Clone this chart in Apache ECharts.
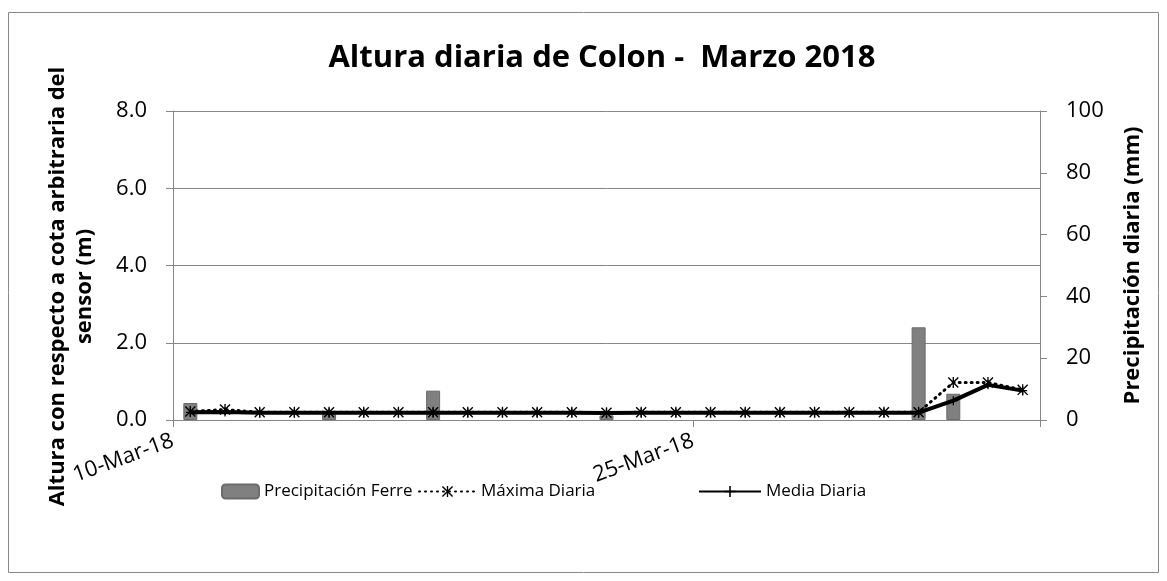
<!DOCTYPE html>
<html>
<head>
<meta charset="utf-8">
<script src="https://cdn.jsdelivr.net/npm/echarts@6/dist/echarts.min.js"></script>
<style>
html, body { margin: 0; padding: 0; background: #fff; }
#chart { width: 1167px; height: 581px; }
</style>
</head>
<body>
<div id="chart"></div>
<script>
// fechas diarias (10-Mar-18 a 3-Apr-18)
var fechas = ['10-Mar-18','11-Mar-18','12-Mar-18','13-Mar-18','14-Mar-18','15-Mar-18','16-Mar-18',
  '17-Mar-18','18-Mar-18','19-Mar-18','20-Mar-18','21-Mar-18','22-Mar-18','23-Mar-18','24-Mar-18',
  '25-Mar-18','26-Mar-18','27-Mar-18','28-Mar-18','29-Mar-18','30-Mar-18','31-Mar-18',
  '1-Apr-18','2-Apr-18','3-Apr-18'];
// precipitacion (mm)
var precipitacion = [5.5,null,null,null,2,null,null,9.5,null,null,null,null,1.5,null,null,
  null,null,null,null,null,null,30,8.5,null,null];
// altura maxima diaria (m)
var maxima = [0.22,0.27,0.2,0.2,0.2,0.2,0.2,0.2,0.2,0.2,0.2,0.2,0.19,0.2,0.2,
  0.2,0.2,0.2,0.2,0.2,0.2,0.2,0.97,0.97,0.78];
// altura media diaria (m)
var media = [0.2,0.21,0.19,0.19,0.19,0.19,0.19,0.19,0.19,0.19,0.19,0.19,0.18,0.19,0.19,
  0.19,0.19,0.19,0.19,0.19,0.19,0.19,0.5,0.91,0.76];

var fuente = 'Open Sans';
var gris = '#868686';
var asterisco = 'path://M4.4,0L5.6,0L5.6,10L4.4,10Z M0.9,0L10,9.1L9.1,10L0,0.9Z M9.1,0L10,0.9L0.9,10L0,9.1Z';
var cruz = 'path://M4.3,0L5.7,0L5.7,10L4.3,10Z M0,4.3L10,4.3L10,5.7L0,5.7Z';

var myChart = echarts.init(document.getElementById('chart'));
myChart.setOption({
  animation: false,
  textStyle: { fontFamily: fuente, color: '#000' },
  graphic: [{
    type: 'rect',
    shape: { x: 8.5, y: 12.5, width: 1150, height: 560 },
    style: { fill: null, stroke: '#898989', lineWidth: 1 }
  }],
  title: {
    text: 'Altura diaria de Colon -  Marzo 2018',
    left: 597,
    textAlign: 'center',
    top: 38,
    textStyle: { fontFamily: fuente, fontSize: 31, fontWeight: 'bold', color: '#000' }
  },
  legend: [
    { data: ['Precipitación Ferre'], left: 221, top: 483, padding: 0, itemWidth: 37, itemHeight: 14,
      textStyle: { fontFamily: fuente, fontSize: 17, color: '#000' } },
    { data: ['Máxima Diaria'], left: 418, top: 483, padding: 0, itemWidth: 57, itemHeight: 14,
      textStyle: { fontFamily: fuente, fontSize: 17, color: '#000' } },
    { data: ['Media Diaria'], left: 698, top: 483, padding: 0, itemWidth: 62, itemHeight: 14,
      textStyle: { fontFamily: fuente, fontSize: 17, color: '#000' } }
  ],
  grid: { left: 173, right: 127, top: 111, bottom: 161 },
  xAxis: [
    {
      type: 'category',
      data: fechas,
      boundaryGap: true,
      axisLine: { lineStyle: { color: gris, width: 1 } },
      axisTick: { show: false },
      axisLabel: { show: false }
    },
    {
      // eje auxiliar para poner las etiquetas en los limites de cada dia
      type: 'value',
      min: 0,
      max: fechas.length,
      interval: 15,
      position: 'bottom',
      axisLine: { show: false },
      axisTick: { show: true, length: 7, lineStyle: { color: gris } },
      splitLine: { show: false },
      axisLabel: {
        rotate: 20,
        fontSize: 22,
        color: '#000',
        margin: 20,
        formatter: function (v) { return v < fechas.length ? fechas[v] : ''; }
      }
    }
  ],
  yAxis: [
    {
      type: 'value',
      min: 0,
      max: 8,
      interval: 2,
      position: 'left',
      name: 'Altura con respecto a cota arbitraria del\nsensor (m)',
      nameLocation: 'middle',
      nameGap: 75,
      nameTextStyle: { fontFamily: fuente, fontSize: 22, fontWeight: 'bold', color: '#000', lineHeight: 27, padding: [0, 42, 0, 0] },
      axisLine: { show: true, lineStyle: { color: gris } },
      axisTick: { show: true, length: 7, lineStyle: { color: gris } },
      axisLabel: { fontSize: 22, color: '#000', margin: 26, formatter: function (v) { return v.toFixed(1); } },
      splitLine: { show: true, lineStyle: { color: gris, width: 1 } }
    },
    {
      type: 'value',
      min: 0,
      max: 100,
      interval: 20,
      position: 'right',
      name: 'Precipitación diaria (mm)',
      nameLocation: 'middle',
      nameRotate: 90,
      nameGap: 82,
      nameTextStyle: { fontFamily: fuente, fontSize: 22, fontWeight: 'bold', color: '#000' },
      axisLine: { show: true, lineStyle: { color: gris } },
      axisTick: { show: true, length: 7, lineStyle: { color: gris } },
      axisLabel: { fontSize: 22, color: '#000', margin: 26 },
      splitLine: { show: false }
    }
  ],
  series: [
    {
      name: 'Precipitación Ferre',
      type: 'bar',
      xAxisIndex: 0,
      yAxisIndex: 1,
      barWidth: 14,
      itemStyle: { color: '#808080', borderColor: '#6b6b6b', borderWidth: 1 },
      data: precipitacion
    },
    {
      name: 'Máxima Diaria',
      type: 'line',
      xAxisIndex: 0,
      yAxisIndex: 0,
      symbol: asterisco,
      symbolSize: 11,
      showAllSymbol: true,
      itemStyle: { color: '#000' },
      lineStyle: { color: '#000', width: 3, type: [1, 5], cap: 'round' },
      data: maxima
    },
    {
      name: 'Media Diaria',
      type: 'line',
      xAxisIndex: 0,
      yAxisIndex: 0,
      symbol: cruz,
      symbolSize: 9,
      showAllSymbol: true,
      itemStyle: { color: '#000' },
      lineStyle: { color: '#000', width: 4 },
      data: media
    }
  ]
});
window.addEventListener('resize', function () {
  myChart.resize();
});
</script>
</body>
</html>
